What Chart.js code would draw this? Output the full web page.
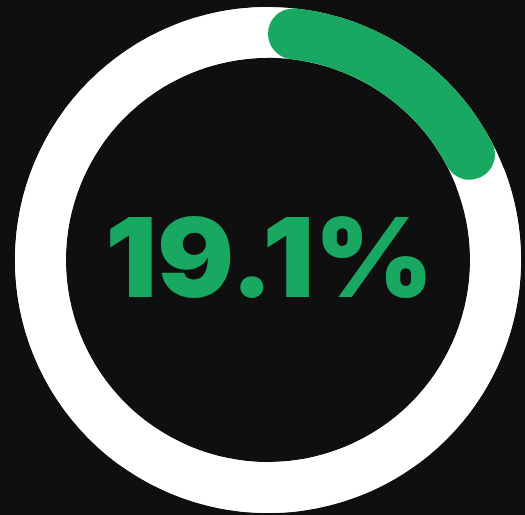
<!DOCTYPE html>
<html>
<head>
<meta charset="utf-8">
<script src="https://cdn.jsdelivr.net/npm/chart.js@4"></script>
<style>
  html, body { margin: 0; padding: 0; background: #0f0f0f; }
  #wrap { width: 525px; height: 515px; }
</style>
</head>
<body>
<div id="wrap"><canvas id="c" width="525" height="515"></canvas></div>
<script>
const categories = ['Share', 'Rest'];
const values = [19.1, 80.9];
const centerLabel = '19.1%';

const GREEN = '#19a862';
const WHITE = '#ffffff';

const ringTrack = {
  id: 'ringTrack',
  beforeDatasetsDraw(chart) {
    const arc = chart.getDatasetMeta(0).data[0];
    if (!arc) return;
    const { x, y, innerRadius, outerRadius } = arc.getProps(['x', 'y', 'innerRadius', 'outerRadius'], true);
    const ctx = chart.ctx;
    ctx.save();
    ctx.beginPath();
    ctx.arc(x, y, outerRadius, 0, Math.PI * 2);
    ctx.arc(x, y, innerRadius, Math.PI * 2, 0, true);
    ctx.closePath();
    ctx.fillStyle = WHITE;
    ctx.fill('evenodd');
    ctx.restore();
  }
};

const centerText = {
  id: 'centerText',
  afterDraw(chart) {
    const arc = chart.getDatasetMeta(0).data[0];
    const { x, y } = arc.getProps(['x', 'y'], true);
    const ctx = chart.ctx;
    ctx.save();
    ctx.translate(x + 1.5, y + 37);
    ctx.scale(1.04, 1);
    ctx.font = '900 110px Inter';
    ctx.letterSpacing = '0px';
    ctx.fillStyle = GREEN;
    ctx.textAlign = 'center';
    ctx.textBaseline = 'alphabetic';
    ctx.fillText(centerLabel, 0, 0);
    ctx.restore();
  }
};

new Chart(document.getElementById('c'), {
  type: 'doughnut',
  data: {
    labels: categories,
    datasets: [{
      data: values,
      backgroundColor: [GREEN, WHITE],
      borderWidth: 0,
      borderRadius: (ctx) => ctx.dataIndex === 0 ? 26 : 0
    }]
  },
  options: {
    responsive: false,
    animation: false,
    cutout: '79.9%',
    layout: { padding: { left: 15, right: 4, top: 7, bottom: 2 } },
    plugins: { legend: { display: false }, tooltip: { enabled: false } }
  },
  plugins: [ringTrack, centerText]
});
</script>
</body>
</html>
